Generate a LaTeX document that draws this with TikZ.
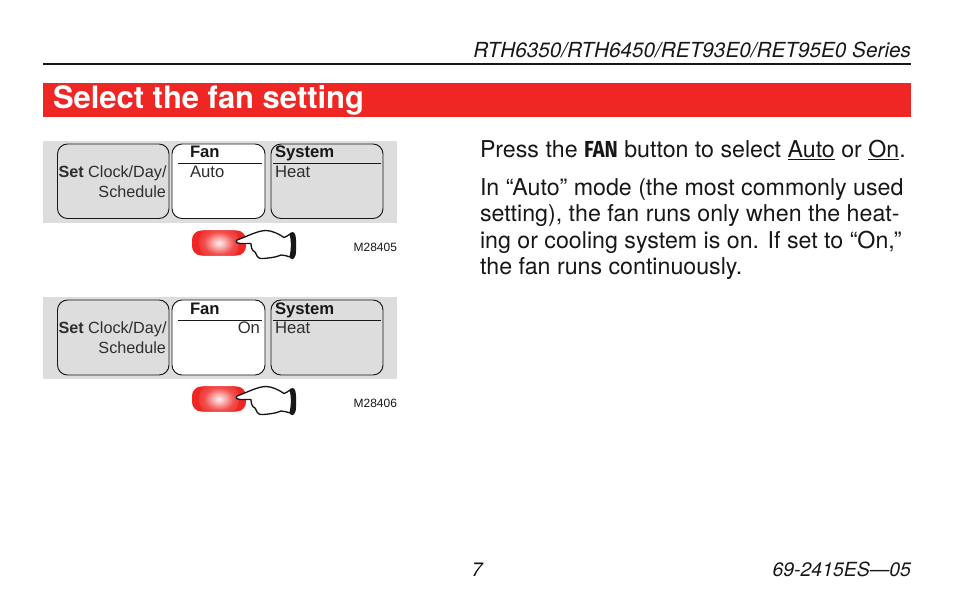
\documentclass[tikz,border=0pt]{standalone}
\usepackage{fontspec}
\setmainfont{TeX Gyre Heros}
\newfontfamily\bodyfont{TeX Gyre Heros}
\newfontfamily\keyfont[FakeStretch=0.86]{Fira Sans}
\newfontfamily\liberation{Liberation Sans}
\definecolor{hred}{RGB}{238,39,36}
\definecolor{panelgray}{RGB}{221,221,221}
\definecolor{ink}{RGB}{25,22,23}
\pgfdeclareradialshading{btnglow}{\pgfpoint{0bp}{0bp}}{color(0bp)=(white!94!hred); color(6bp)=(hred!38!white); color(14bp)=(hred!82!white); color(24bp)=(hred); color(50bp)=(hred)}
\tikzset{
  x=0.75pt,y=-0.75pt,
  every node/.style={inner sep=0pt,outer sep=0pt,text=ink},
  bodytext/.style={anchor=base west,font=\bodyfont\fontsize{17.4pt}{20pt}\selectfont},
  softkey/.style={draw=ink,line width=0.7pt,rounded corners=7.5pt},
  paneltext/.style={anchor=base west,font=\liberation\fontsize{12.5pt}{14pt}\selectfont,text=ink!90},
  leftkeytext/.style={anchor=base west,font=\liberation\fontsize{12.15pt}{14pt}\selectfont,text=ink!90},
  panelhead/.style={anchor=base west,font=\liberation\fontsize{12.5pt}{14pt}\selectfont\bfseries},
  hdrule/.style={draw=ink,line width=0.7pt},
  fancy/.pic={
    \node[draw=none,fill=hred,rounded corners=7pt,minimum width=40.5pt,minimum height=18.8pt,
          path picture={\shade[shading=btnglow] (path picture bounding box.center) circle (15pt);}] (-btn) at (219,0) {};
    \fill[ink] (290,-10) .. controls (294,-13) and (296,-9) .. (296,-3) -- (296,8) .. controls (296,15) and (293,18) .. (290,15) .. controls (291.5,7) and (291.5,-3) .. (290,-10) -- cycle;
    \draw[ink,fill=white,line width=1pt,line join=round]
      (237,-3) .. controls (235,-1) and (237,0.5) .. (241,0.5)
      -- (251,0.5) .. controls (251,4) and (252,8) .. (255,9)
      .. controls (256,12) and (258,15.5) .. (261,15.5)
      .. controls (268,15.5) and (277,14) .. (281,12)
      .. controls (284,12) and (287,13) .. (290,14)
      .. controls (292,7) and (292,-4) .. (290,-9)
      .. controls (288,-7.5) and (286,-6) .. (284,-5.5)
      .. controls (279,-9) and (272,-12.5) .. (266,-12.5)
      .. controls (258,-12.5) and (248,-7) .. (237,-3) -- cycle;
  }
}
\begin{document}
\begin{tikzpicture}
\useasboundingbox (0,0) rectangle (954,608);
% page head
\node[font=\bodyfont\fontsize{15.55pt}{18pt}\selectfont\itshape,anchor=base east] (series) at (911,57) {RTH6350/RTH6450/RET93E0/RET95E0 Series};
\coordinate (ruleL) at (43,64);
\coordinate (ruleR) at (911,64);
\draw[ink,line width=1.1pt] (ruleL) -- (ruleR);
\fill[hred] (43,83) rectangle (911,116.5);
\node[anchor=base west,text=white,font=\fontsize{23.2pt}{26pt}\selectfont\bfseries] (title) at (53,108) {Select the fan setting};
% panel 1
\fill[panelgray] (43,141) rectangle (397,223);
\draw[softkey] (57.5,144) rectangle (169,218.5);
\draw[softkey,fill=white] (172,144) rectangle (265,218.5);
\draw[softkey] (271,144) rectangle (383,218.5);
\node[leftkeytext] (a1) at (58.5,177) {\textbf{Set} Clock/Day/};
\node[leftkeytext,anchor=base east] (a2) at (166,197) {Schedule};
\node[panelhead] (a3) at (190,157) {Fan};
\node[paneltext] (a4) at (190,177) {Auto};
\node[panelhead] (a5) at (275,157) {System};
\node[paneltext] (a6) at (275,177) {Heat};
\draw[hdrule] (178,163.5) -- (262,163.5);
\draw[hdrule] (273,163.5) -- (381,163.5);
\pic (hand1) at (0,243) {fancy};
\node[anchor=base east,font=\liberation\fontsize{9pt}{11pt}\selectfont] (m1) at (397,251) {M28405};
% panel 2
\fill[panelgray] (43,297) rectangle (397,379);
\draw[softkey] (57.5,300) rectangle (169,375);
\draw[softkey,fill=white] (172,300) rectangle (265,375);
\draw[softkey] (271,300) rectangle (383,375);
\node[leftkeytext] (b1) at (58.5,333) {\textbf{Set} Clock/Day/};
\node[leftkeytext,anchor=base east] (b2) at (166,353) {Schedule};
\node[panelhead] (b3) at (190,314) {Fan};
\node[paneltext,anchor=base east] (b4) at (260,333) {On};
\node[panelhead] (b5) at (275,314) {System};
\node[paneltext] (b6) at (275,333) {Heat};
\draw[hdrule] (178,320) -- (262,320);
\draw[hdrule] (273,320) -- (381,320);
\pic (hand2) at (0,399) {fancy};
\node[anchor=base east,font=\liberation\fontsize{9pt}{11pt}\selectfont] (m2) at (397,407.5) {M28406};
% body text
\node[bodytext] (p1) at (480,157) {Press the {\keyfont\bfseries\fontsize{17.4pt}{20pt}\selectfont FAN} button to select \underline{Auto} or \underline{On}.};
\node[bodytext] (p2) at (480,195.5) {In “Auto” mode (the most commonly used};
\node[bodytext] (p3) at (480,221.5) {setting), the fan runs only when the heat-};
\node[bodytext] (p4) at (480,248) {ing or cooling system is on. If set to “On,”};
\node[bodytext] (p5) at (480,274) {the fan runs continuously.};
% foot
\node[font=\bodyfont\fontsize{14.6pt}{17pt}\selectfont\itshape,anchor=base] (pg) at (477,576) {7};
\node[font=\bodyfont\fontsize{14.6pt}{17pt}\selectfont\itshape,anchor=base east] (doc) at (911,576) {69-2415ES—05};
\end{tikzpicture}
\end{document}
